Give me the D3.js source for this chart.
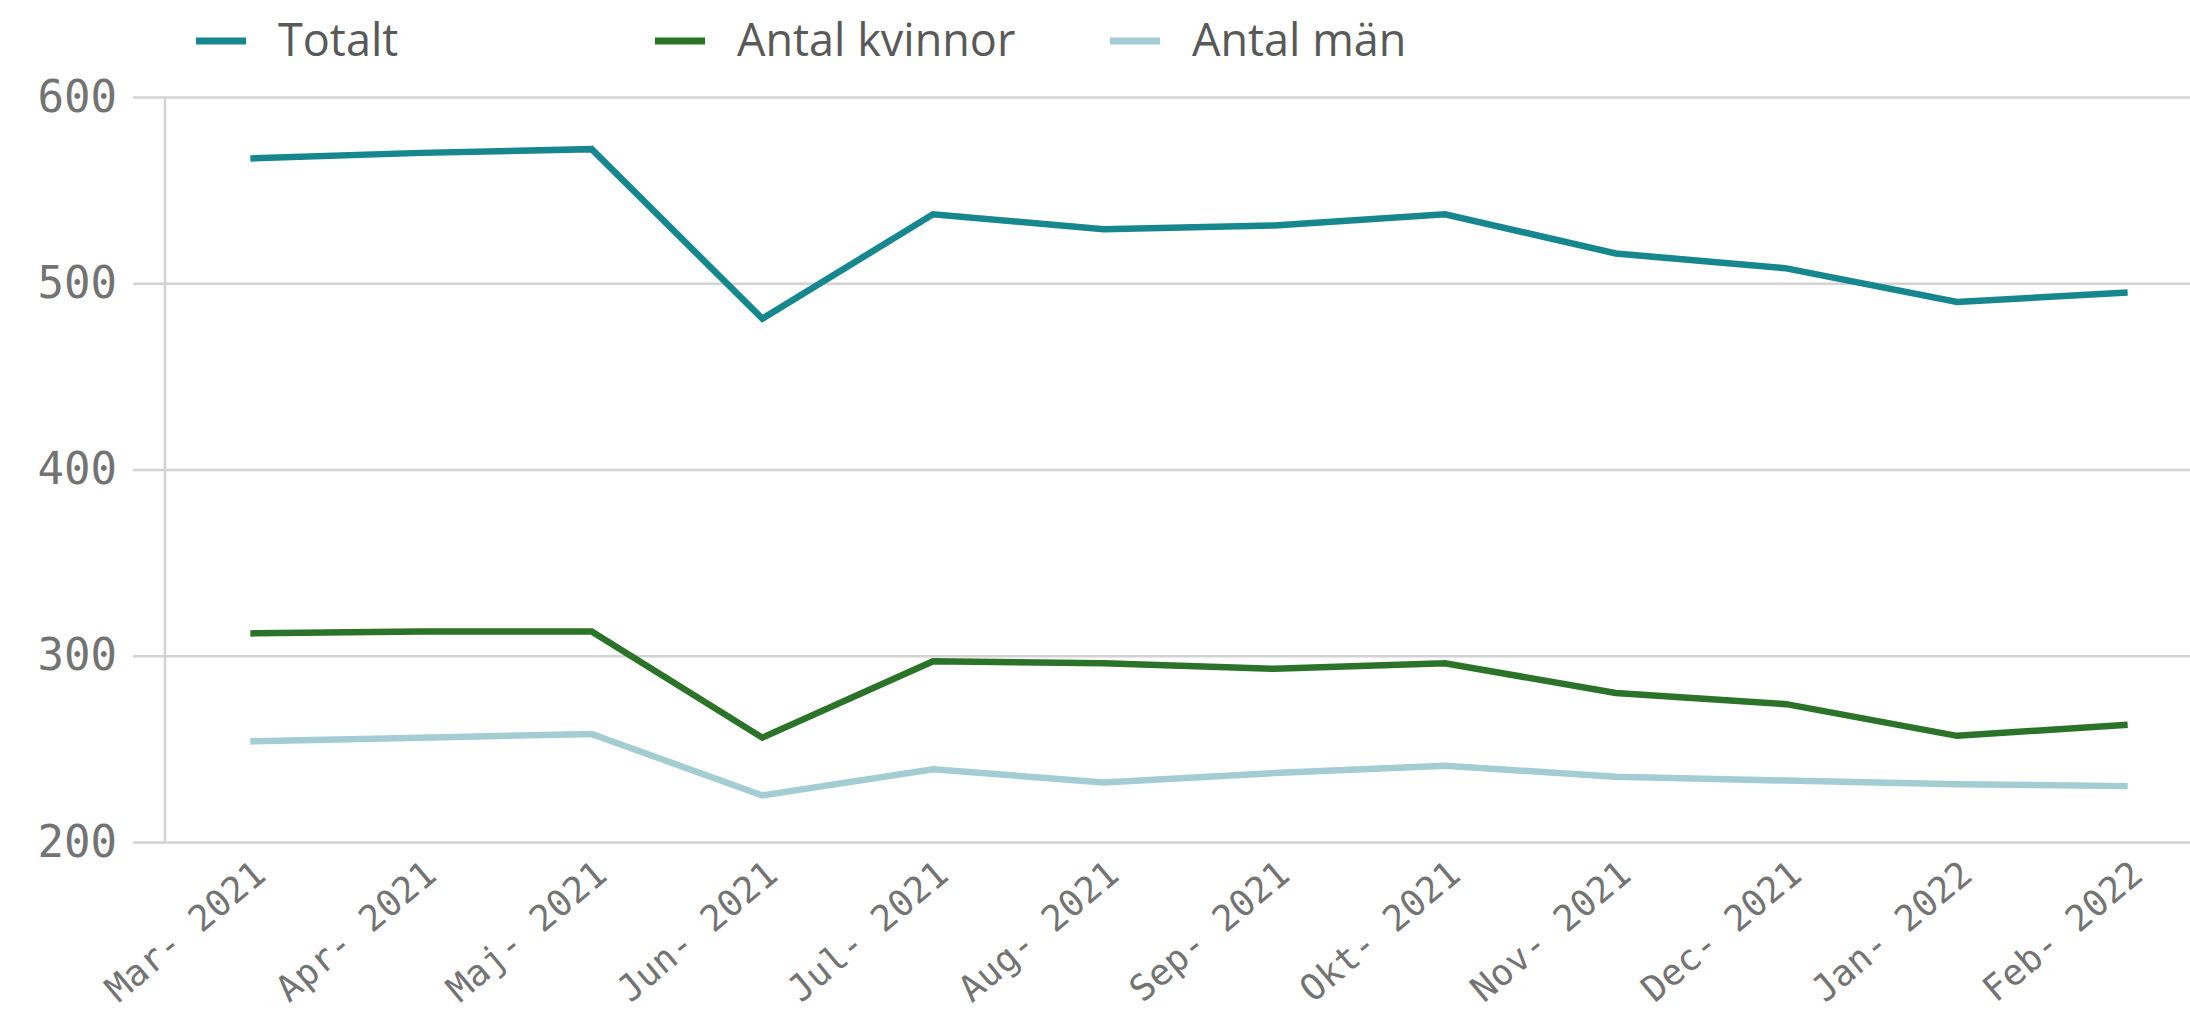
<!DOCTYPE html>
<html>
<head>
<meta charset="utf-8">
<script src="https://cdn.jsdelivr.net/npm/d3@7"></script>
<style>
  html, body { margin: 0; padding: 0; background: #fff; overflow: hidden; }
</style>
</head>
<body>
<div id="container"></div>
<script>
const months = ["Mar- 2021", "Apr- 2021", "Maj- 2021", "Jun- 2021", "Jul- 2021", "Aug- 2021",
  "Sep- 2021", "Okt- 2021", "Nov- 2021", "Dec- 2021", "Jan- 2022", "Feb- 2022"];
const totalt = [567, 570, 572, 481, 537, 529, 531, 537, 516, 508, 490, 495];
const kvinnor = [312, 313, 313, 256, 297, 296, 293, 296, 280, 274, 257, 263];
const man = [254, 256, 258, 225, 239, 232, 237, 241, 235, 233, 231, 230];
const yTicks = [200, 300, 400, 500, 600];

const series = [
  { name: "Totalt", values: totalt, color: "#17878f" },
  { name: "Antal kvinnor", values: kvinnor, color: "#2b7329" },
  { name: "Antal män", values: man, color: "#a3cdd3" }
];

const width = 2190;
const height = 1013;
const left = 165;

const svg = d3.select("#container")
  .append("svg")
  .attr("width", width)
  .attr("height", height);

const xScale = d3.scalePoint()
  .domain(months)
  .range([left, 2213])
  .padding(0.5);

const yScale = d3.scaleLinear()
  .domain([200, 600])
  .range([842, 97]);

// grid lines + y labels
const yAxis = d3.axisLeft(yScale)
  .tickValues(yTicks)
  .tickSize(-(width - left))
  .tickSizeOuter(0);

const yg = svg.append("g")
  .attr("transform", `translate(${left},0)`)
  .call(yAxis);
yg.select(".domain").remove();
yg.selectAll(".tick line")
  .attr("x1", -32)
  .attr("stroke", "#d3d3d3")
  .attr("stroke-width", 2.5);
yg.selectAll(".tick text")
  .attr("x", -48)
  .attr("font-family", "DejaVu Sans Mono")
  .attr("font-size", 44)
  .attr("fill", "#737373");

// left axis line
svg.append("line")
  .attr("x1", left).attr("x2", left)
  .attr("y1", yScale(600)).attr("y2", yScale(200))
  .attr("stroke", "#d3d3d3")
  .attr("stroke-width", 2.5);

// x labels
const xAxis = d3.axisBottom(xScale).tickSize(0).tickPadding(0);
const xg = svg.append("g")
  .attr("transform", `translate(0,${yScale(200)})`)
  .call(xAxis);
xg.select(".domain").remove();
xg.selectAll(".tick text")
  .attr("font-family", "DejaVu Sans Mono")
  .attr("font-size", 36)
  .attr("fill", "#737373")
  .attr("text-anchor", "end")
  .attr("dy", 0)
  .attr("y", 0)
  .attr("transform", "translate(17,36) rotate(-40)");

// lines
const line = d3.line()
  .x((d, i) => xScale(months[i]))
  .y(d => yScale(d));

svg.selectAll(".series")
  .data(series.slice().reverse())
  .enter()
  .append("path")
  .attr("class", "series")
  .attr("fill", "none")
  .attr("stroke", d => d.color)
  .attr("stroke-width", 6.5)
  .attr("stroke-linejoin", "miter")
  .attr("d", d => line(d.values));

// legend
const legendX = [196, 655, 1110];
const legend = svg.selectAll(".legend")
  .data(series)
  .enter()
  .append("g")
  .attr("class", "legend")
  .attr("transform", (d, i) => `translate(${legendX[i]},0)`);

legend.append("line")
  .attr("x1", 0).attr("x2", 50)
  .attr("y1", 41).attr("y2", 41)
  .attr("stroke", d => d.color)
  .attr("stroke-width", 7);

legend.append("text")
  .attr("x", 82)
  .attr("y", 56)
  .attr("font-family", "Open Sans")
  .attr("font-size", 45)
  .attr("fill", "#595959")
  .text(d => d.name);
</script>
</body>
</html>
